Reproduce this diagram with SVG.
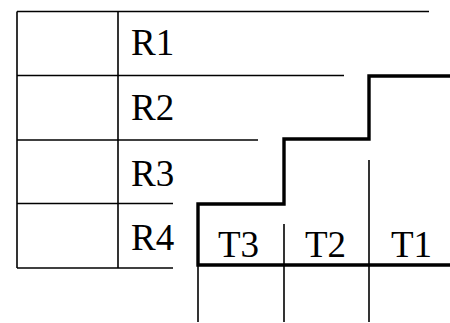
<svg xmlns="http://www.w3.org/2000/svg" width="450" height="323" viewBox="0 0 450 323">
<style>
.thin{stroke:#000;stroke-width:1.6;fill:none}
.thick{stroke:#000;stroke-width:3.4;fill:none;stroke-linejoin:miter;stroke-linecap:square}
.lbl{font-family:"Liberation Serif","Times New Roman",serif;font-size:37px;fill:#000}
</style>
<rect width="450" height="323" fill="#fff"/>
<g id="connectors">
<line class="thin" x1="17" y1="11.5" x2="429" y2="11.5"/>
<line class="thin" x1="17" y1="75.5" x2="344" y2="75.5"/>
<line class="thin" x1="17" y1="140" x2="258" y2="140"/>
<line class="thin" x1="17" y1="203.5" x2="173" y2="203.5"/>
<line class="thin" x1="17" y1="268" x2="173" y2="268"/>
<line class="thin" x1="17" y1="11.5" x2="17" y2="268"/>
<line class="thin" x1="118" y1="11.5" x2="118" y2="268"/>
<line class="thin" x1="198" y1="265" x2="198" y2="322"/>
<line class="thin" x1="284" y1="224" x2="284" y2="322"/>
<line class="thin" x1="369" y1="160" x2="369" y2="322"/>
<path class="thick" d="M450,265 H198 V204 H284 V139 H369 V76 H452"/>
</g>
<g id="R1"><text class="lbl" x="131" y="55">R1</text></g>
<g id="R2"><text class="lbl" x="131" y="119.5">R2</text></g>
<g id="R3"><text class="lbl" x="131" y="185.5">R3</text></g>
<g id="R4"><text class="lbl" x="131" y="250">R4</text></g>
<g id="T3"><text class="lbl" x="218" y="257">T3</text></g>
<g id="T2"><text class="lbl" x="305" y="257">T2</text></g>
<g id="T1"><text class="lbl" x="391" y="257">T1</text></g>
</svg>
